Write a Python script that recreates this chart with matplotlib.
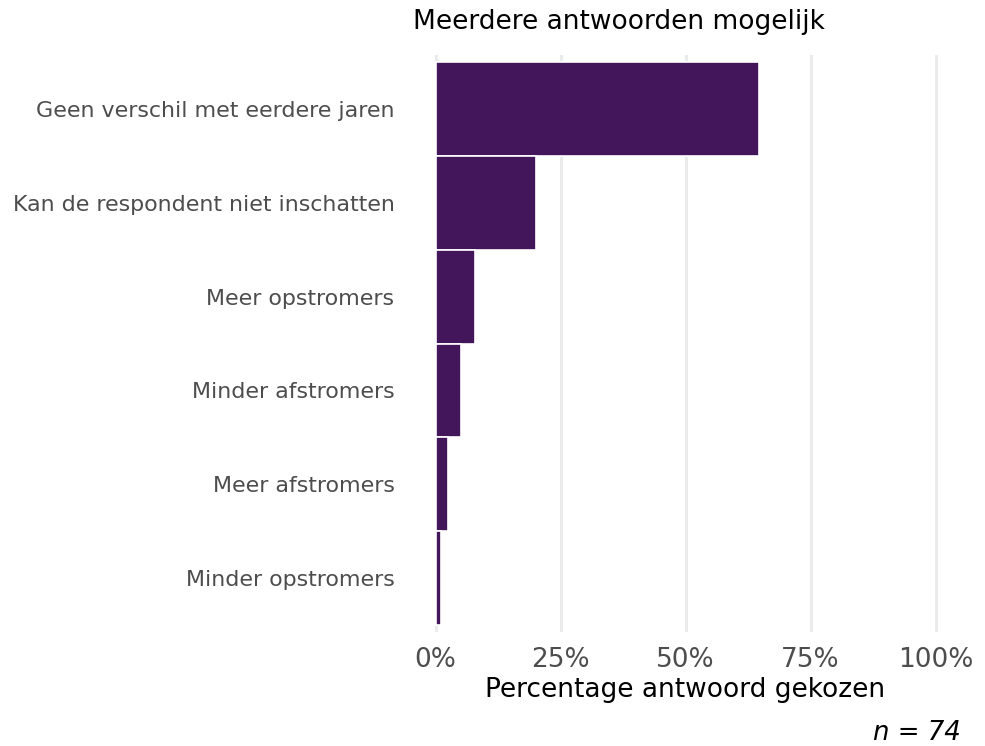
import matplotlib.pyplot as plt
import numpy as np

# answer categories, top to bottom, and the share that picked each one
categories = ['Geen verschil met eerdere jaren',
              'Kan de respondent niet inschatten',
              'Meer opstromers',
              'Minder afstromers',
              'Meer afstromers',
              'Minder opstromers']
share = [64.6, 20.0, 7.8, 5.0, 2.4, 1.0]
x_ticks = [0, 25, 50, 75, 100]
x_tick_labels = ['0%', '25%', '50%', '75%', '100%']
n_resp = 74

W, H = 985, 746
fig = plt.figure(figsize=(W / 100, H / 100), dpi=100)
ax = fig.add_axes([430.5 / W, 1 - 632 / H, 510 / W, 577 / H])

ypos = np.arange(len(categories))[::-1]
ax.barh(ypos, share, height=1.0, color='#43165b', edgecolor='white',
        linewidth=1.2, zorder=3)

ax.set_xlim(-1, 101)
ax.set_ylim(-0.58, len(categories) - 0.42)
ax.set_xticks(x_ticks)
ax.set_xticklabels(x_tick_labels, fontsize=19, color='#4d4d4d')
ax.set_yticks(ypos)
ax.set_yticklabels(categories, fontsize=15.9, color='#4d4d4d')
ax.tick_params(axis='y', length=0, pad=26)
ax.tick_params(axis='x', length=0, pad=11)
ax.grid(axis='x', color='#ebebeb', linewidth=2.2, zorder=0)
ax.set_axisbelow(True)
for s in ax.spines.values():
    s.set_visible(False)

ax.set_xlabel('Percentage antwoord gekozen', fontsize=19, color='black', labelpad=3)
fig.text(618.5 / W, 1 - 22 / H, 'Meerdere antwoorden mogelijk', fontsize=19,
         ha='center', va='center')
fig.text(961 / W, 1 - 733 / H, 'n = %d' % n_resp, fontsize=18.7, style='italic',
         ha='right', va='center')

fig.savefig('out.png', dpi=100)
